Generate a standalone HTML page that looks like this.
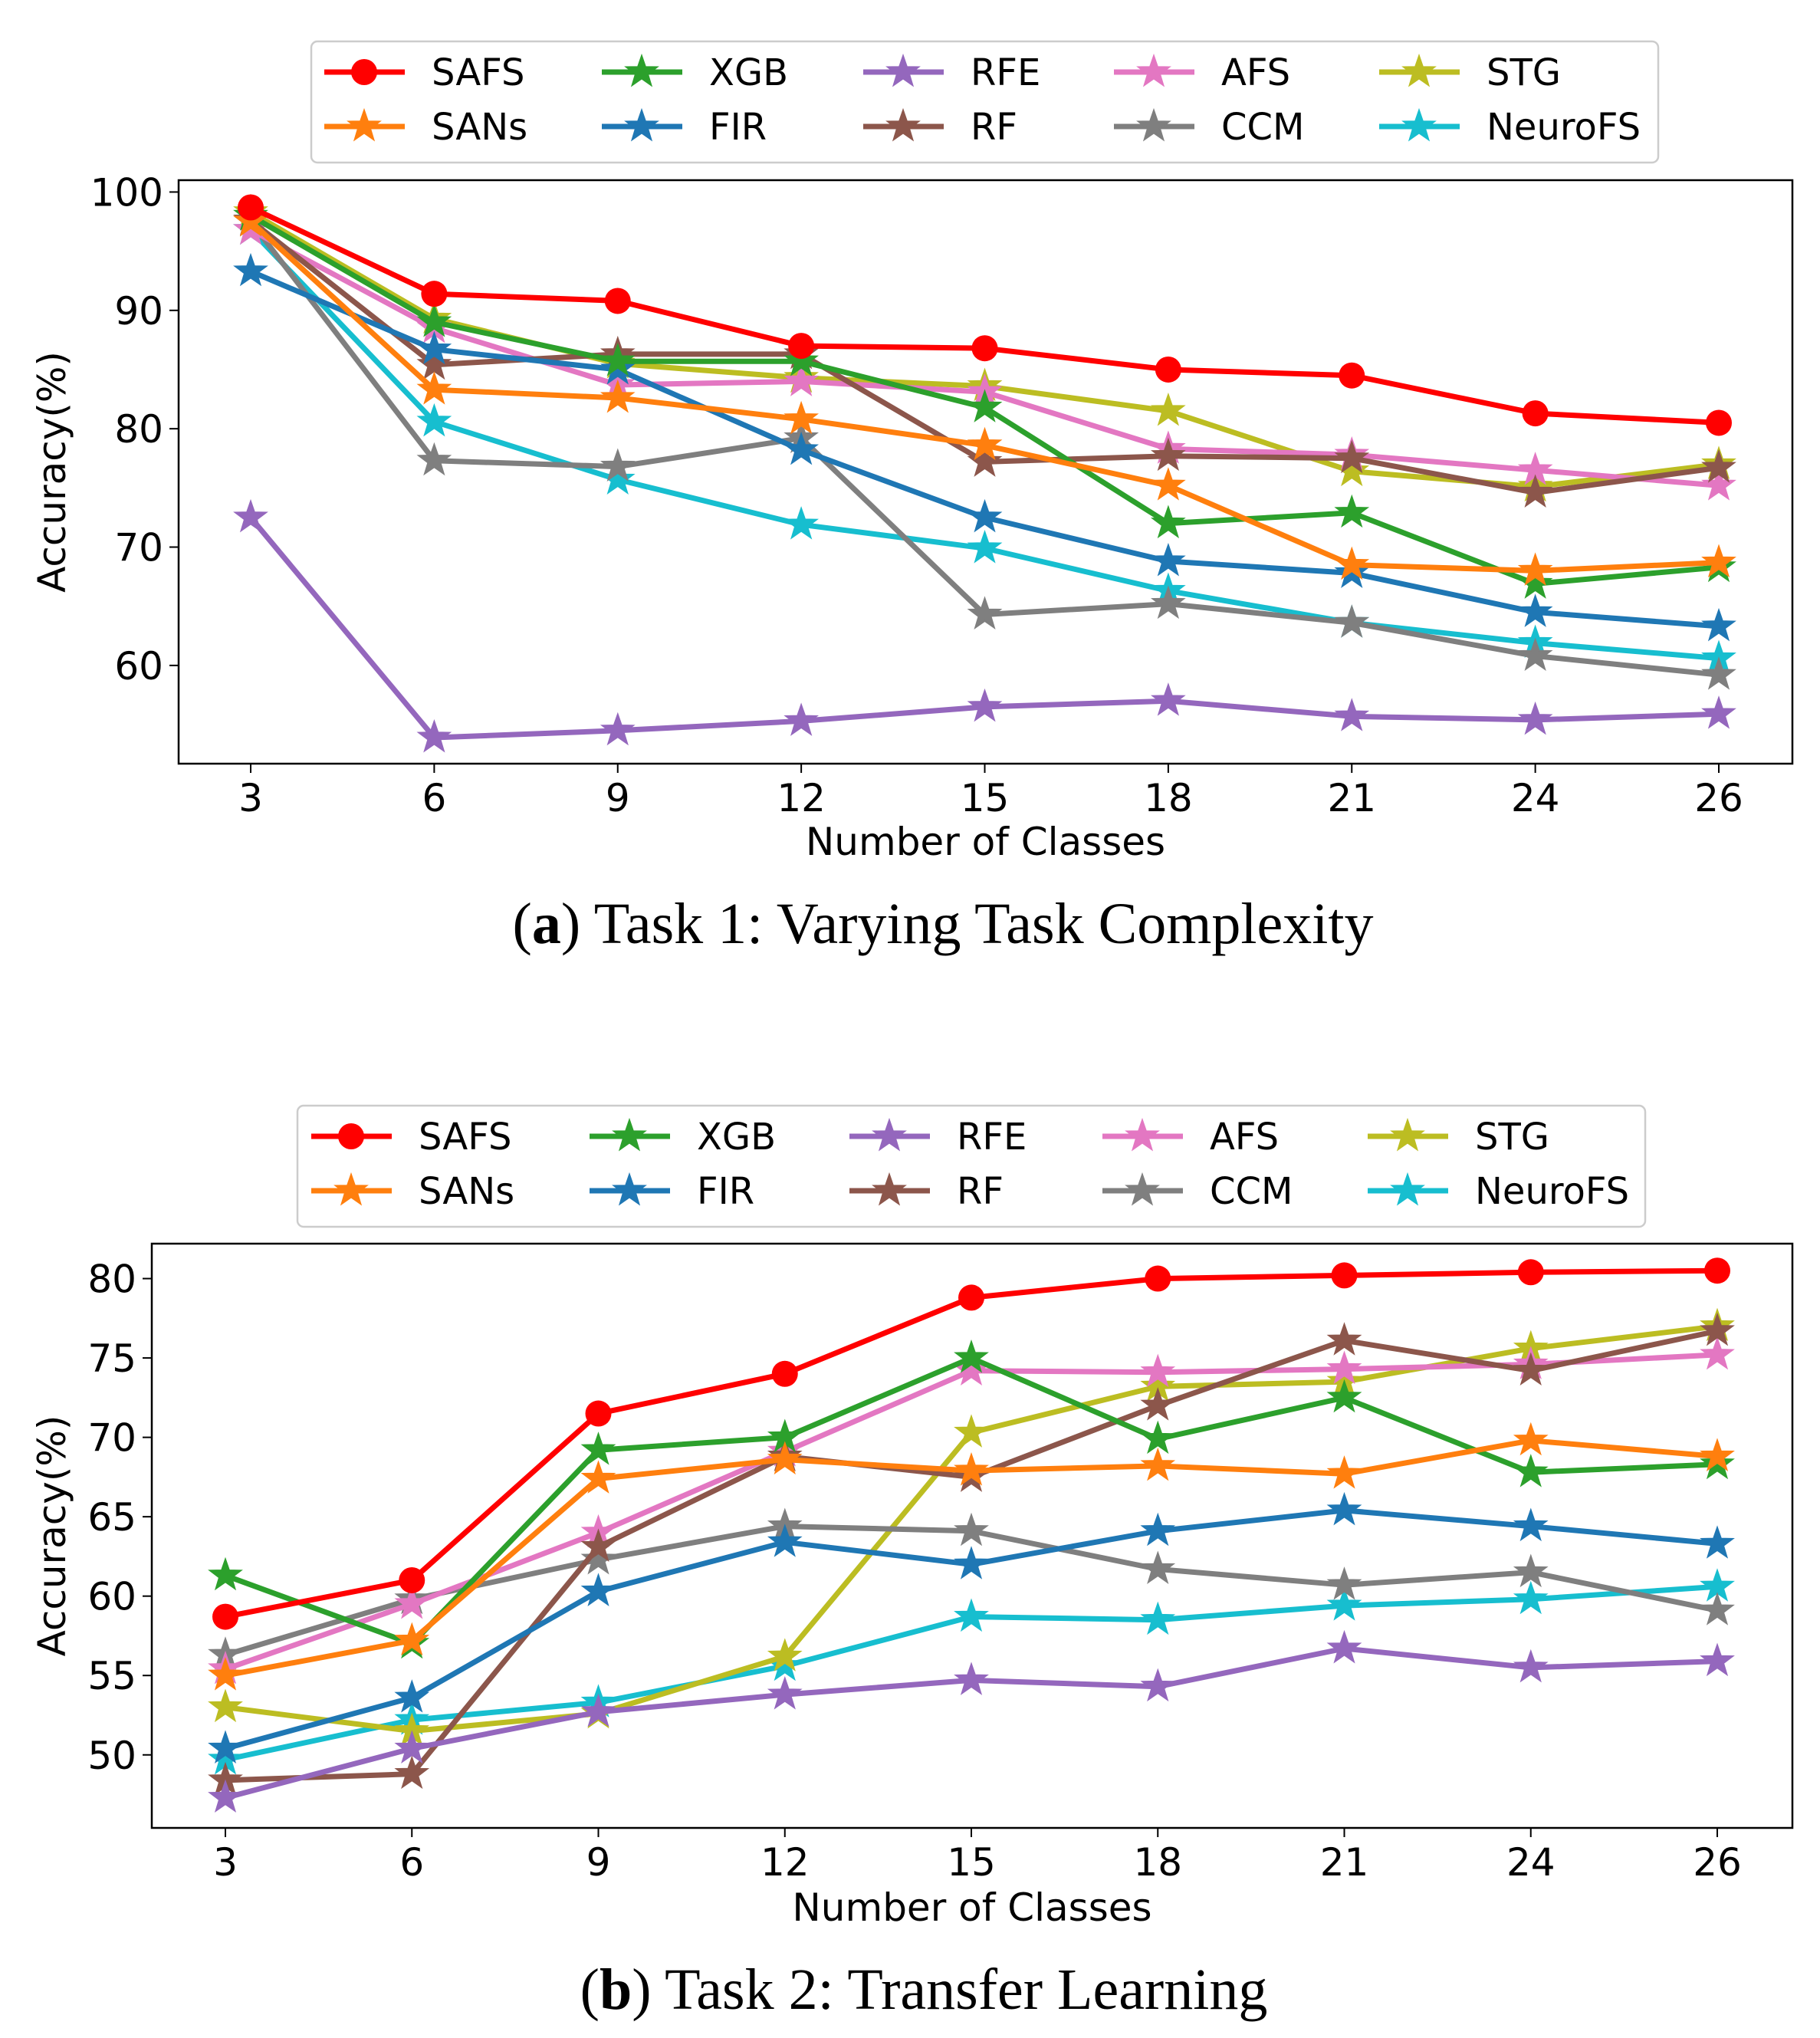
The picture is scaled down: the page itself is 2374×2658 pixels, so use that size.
<!DOCTYPE html>
<html><head><meta charset="utf-8"><style>
body{margin:0;background:#fff}
svg{display:block}
</style></head><body>
<svg id="fig" width="2374" height="2658" xmlns="http://www.w3.org/2000/svg"></svg>
<script>
const classes=[3,6,9,12,15,18,21,24,26];
const seriesNames=["SAFS","SANs","XGB","FIR","RFE","RF","AFS","CCM","STG","NeuroFS"];
const seriesColors=["#ff0000","#ff7f0e","#2ca02c","#1f77b4","#9467bd","#8c564b","#e377c2","#7f7f7f","#bcbd22","#17becf"];
// Task 1
const t1SAFS=[98.7,91.4,90.8,87.0,86.8,85.0,84.5,81.3,80.5];
const t1SANs=[97.5,83.3,82.6,80.8,78.6,75.2,68.5,68.0,68.7];
const t1XGB=[98.0,89.0,85.7,85.7,81.8,72.0,72.9,66.9,68.3];
const t1FIR=[93.3,86.7,85.0,78.2,72.5,68.8,67.8,64.5,63.3];
const t1RFE=[72.5,53.9,54.5,55.3,56.5,57.0,55.7,55.4,55.9];
const t1RF=[97.6,85.4,86.3,86.3,77.2,77.7,77.5,74.6,76.7];
const t1AFS=[96.8,88.5,83.7,84.0,83.1,78.3,77.8,76.5,75.2];
const t1CCM=[97.5,77.3,76.8,79.2,64.3,65.2,63.6,60.8,59.2];
const t1STG=[98.3,89.3,85.5,84.3,83.6,81.5,76.4,75.1,77.0];
const t1NeuroFS=[96.8,80.6,75.7,71.9,69.9,66.3,63.6,61.9,60.6];
const t1Ticks=[60,70,80,90,100];
// Task 2
const t2SAFS=[58.7,61.0,71.5,74.0,78.8,80.0,80.2,80.4,80.5];
const t2SANs=[55.0,57.2,67.4,68.6,67.9,68.2,67.7,69.8,68.8];
const t2XGB=[61.3,57.0,69.2,70.0,75.0,69.9,72.5,67.8,68.3];
const t2FIR=[50.4,53.6,60.3,63.4,62.0,64.1,65.4,64.4,63.3];
const t2RFE=[47.3,50.4,52.7,53.8,54.7,54.3,56.7,55.5,55.9];
const t2RF=[48.4,48.8,63.1,68.8,67.5,72.0,76.1,74.2,76.7];
const t2AFS=[55.4,59.5,64.0,69.1,74.2,74.1,74.3,74.6,75.2];
const t2CCM=[56.3,59.8,62.3,64.4,64.1,61.7,60.7,61.5,59.1];
const t2STG=[53.0,51.5,52.6,56.2,70.3,73.2,73.5,75.6,77.0];
const t2NeuroFS=[49.7,52.2,53.3,55.6,58.7,58.5,59.4,59.8,60.6];
const t2Ticks=[50,55,60,65,70,75,80];

const NS="http://www.w3.org/2000/svg";
const svg=document.getElementById('fig');
function mk(tag,attrs,parent){const e=document.createElementNS(NS,tag);for(const k in attrs)e.setAttribute(k,attrs[k]);(parent||svg).appendChild(e);return e;}
function starPath(cx,cy,R){const r=R*0.4;let d="";for(let i=0;i<10;i++){const a=-Math.PI/2+i*Math.PI/5;const rr=i%2?r:R;d+=(i?"L":"M")+(cx+rr*Math.cos(a)).toFixed(1)+","+(cy+rr*Math.sin(a)).toFixed(1);}return d+"Z";}
function marker(g,i,x,y){
  if(i===0){return mk('circle',{cx:x,cy:y,r:17,fill:seriesColors[0]},g);}
  return mk('path',{d:starPath(x,y,21),fill:seriesColors[i],stroke:seriesColors[i],'stroke-width':2},g);
}
function chart(cfg,data,ticks,tag){
  const {left,right,top,bottom,x0,x1,ymin,ymax}=cfg;
  const n=classes.length;
  const X=j=>x0+j/(n-1)*(x1-x0);
  const Y=v=>bottom-(v-ymin)/(ymax-ymin)*(bottom-top);
  const g=mk('g',{});
  
  
  const frame=mk('rect',{x:left,y:top,width:right-left,height:bottom-top,fill:'none',stroke:'#000','stroke-width':2.5},g);
  
  
  classes.forEach((c,j)=>{
    mk('line',{x1:X(j),x2:X(j),y1:bottom,y2:bottom+12,stroke:'#000','stroke-width':2},g);
    const t=mk('text',{x:X(j),y:bottom+62,'text-anchor':'middle','font-size':50,'font-family':'DejaVu Sans, sans-serif'},g);
    t.textContent=c;
    
    
  });
  ticks.forEach(v=>{
    mk('line',{x1:left-12,x2:left,y1:Y(v),y2:Y(v),stroke:'#000','stroke-width':2},g);
    const t=mk('text',{x:left-20,y:Y(v)+18,'text-anchor':'end','font-size':50,'font-family':'DejaVu Sans, sans-serif'},g);
    t.textContent=v;
    
    
  });
  const xl=mk('text',{x:(left+right)/2,y:cfg.xlabelY,'text-anchor':'middle','font-size':50,'font-family':'DejaVu Sans, sans-serif'},g);
  xl.textContent='Number of Classes';
  
  
  const yl=mk('text',{x:0,y:0,'text-anchor':'middle','font-size':50,'font-family':'DejaVu Sans, sans-serif',transform:`translate(${cfg.ylabelX},${(top+bottom)/2}) rotate(-90)`},g);
  yl.textContent='Accuracy(%)';
  
  
  for(let i=data.length-1;i>=0;i--){
    const sg=mk('g',{},g);
    
    
    const pts=data[i].map((v,j)=>X(j).toFixed(1)+','+Y(v).toFixed(1)).join(' ');
    mk('polyline',{points:pts,fill:'none',stroke:seriesColors[i],'stroke-width':7,'stroke-linejoin':'round'},sg);
    data[i].forEach((v,j)=>{const m=marker(sg,i,X(j),Y(v));
      
      });
  }
  const L=cfg.legend;
  const lg=mk('g',{},g);
  
  
  mk('rect',{x:L.x,y:L.y,width:L.w,height:L.h,rx:8,fill:'#fff',stroke:'#ccc','stroke-width':2.5},lg);
  seriesNames.forEach((nm,i)=>{
    const col=Math.floor(i/2),row=i%2;
    const hx=L.cols[col],ty=L.rows[row];
    const eg=mk('g',{},lg);
    
    
    mk('line',{x1:hx,x2:hx+105,y1:ty,y2:ty,stroke:seriesColors[i],'stroke-width':7},eg);
    marker(eg,i,hx+52,ty);
    const t=mk('text',{x:hx+140,y:ty+17,'font-size':48,'font-family':'DejaVu Sans, sans-serif'},eg);
    t.textContent=nm;
  });
  const cap=mk('text',{x:cfg.capX,y:cfg.capY,'text-anchor':'middle','font-size':76,'font-family':'Liberation Serif, serif'},g);
  cap.innerHTML=cfg.cap;
  
  
}
const d1=[t1SAFS,t1SANs,t1XGB,t1FIR,t1RFE,t1RF,t1AFS,t1CCM,t1STG,t1NeuroFS];
const d2=[t2SAFS,t2SANs,t2XGB,t2FIR,t2RFE,t2RF,t2AFS,t2CCM,t2STG,t2NeuroFS];
chart({left:233,right:2338,top:235,bottom:996,x0:327,x1:2242,ymin:51.7,ymax:101,
  xlabelY:1115,ylabelX:85,capX:1230,capY:1230,
  cap:'(<tspan font-weight="bold">a</tspan>) Task 1: Varying Task Complexity',
  legend:{x:406,y:54,w:1757,h:158,cols:[423,785,1126,1453,1799],rows:[94,165]}},d1,t1Ticks,'task1');
chart({left:198,right:2338,top:1622,bottom:2384,x0:294,x1:2240,ymin:45.4,ymax:82.2,
  xlabelY:2505,ylabelX:85,capX:1205,capY:2620,
  cap:'(<tspan font-weight="bold">b</tspan>) Task 2: Transfer Learning',
  legend:{x:388,y:1442,w:1758,h:158,cols:[406,769,1108,1438,1784],rows:[1482,1553]}},d2,t2Ticks,'task2');
</script>
</body></html>
